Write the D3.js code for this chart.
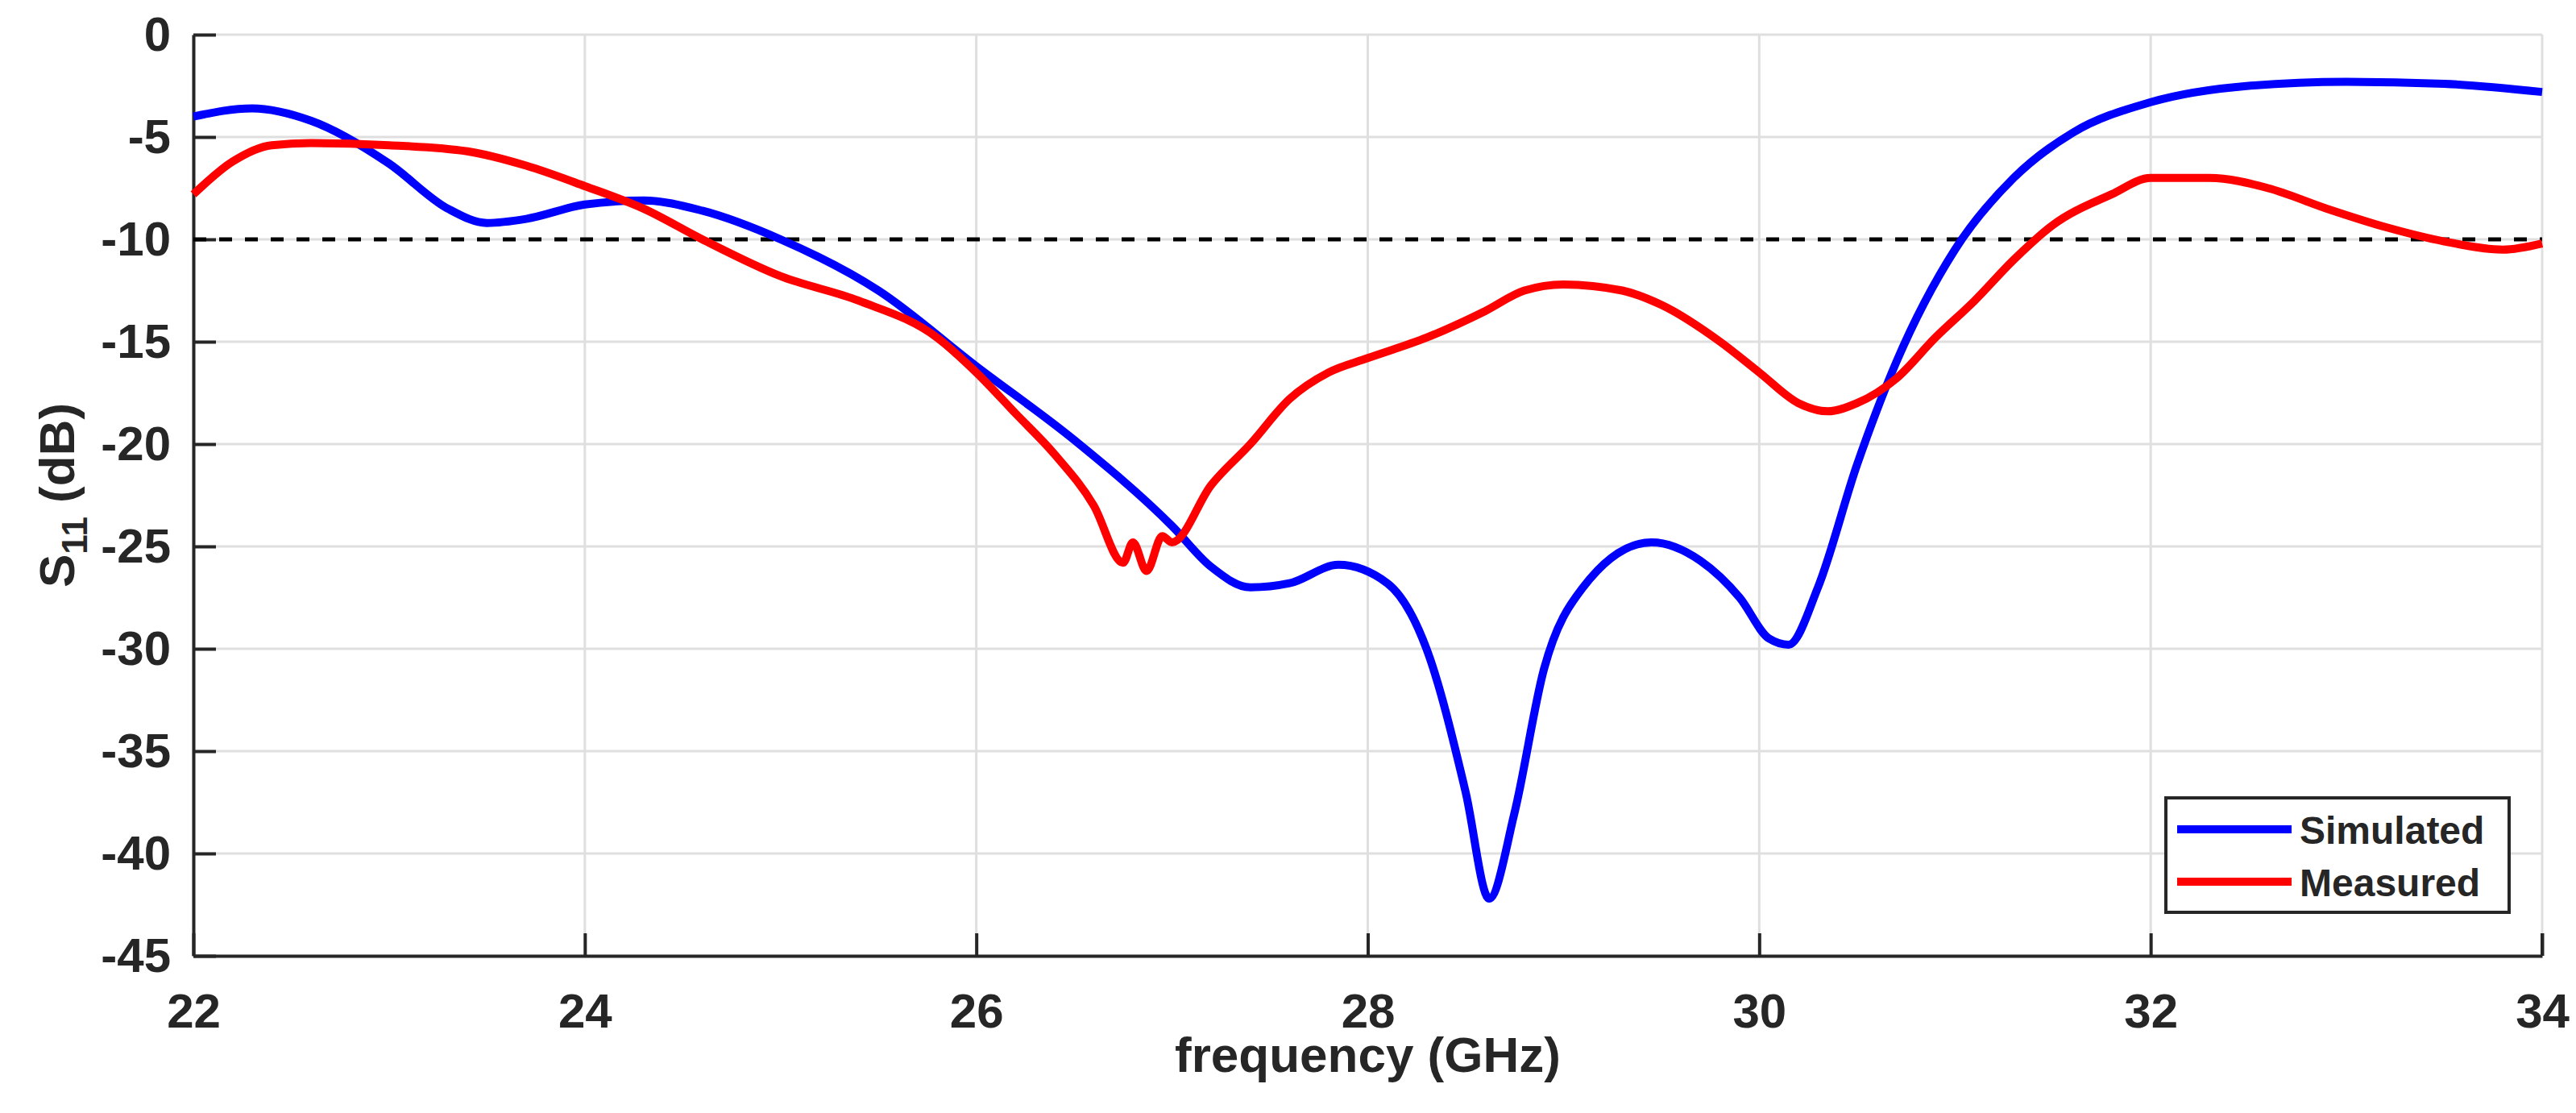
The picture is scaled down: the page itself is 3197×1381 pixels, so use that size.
<!DOCTYPE html><html><head><meta charset="utf-8">
<script src="https://cdn.jsdelivr.net/npm/d3@7"></script>
<style>body{margin:0;background:#fff}text{font-family:"Liberation Sans",Arial,sans-serif;font-weight:bold;fill:#262626}</style>
</head><body><svg id="c" width="3197" height="1381"></svg>
<script>
const simFreq=[22,22.3,22.6,23.0,23.3,23.5,23.7,24.0,24.3,24.6,25,25.5,26,26.5,27,27.2,27.4,27.6,27.85,28.1,28.3,28.5,28.62,28.75,28.9,29.1,29.45,29.7,29.9,30.05,30.15,30.3,30.5,30.7,31,31.3,31.6,32,32.5,33,33.5,34];
const simS11=[-4,-3.6,-4.2,-6.3,-8.5,-9.2,-9.0,-8.3,-8.1,-8.6,-10,-12.5,-16.2,-19.8,-24,-26,-27,-26.8,-25.9,-26.8,-30,-37,-42.2,-38,-31,-27,-24.8,-25.7,-27.5,-29.5,-29.8,-27,-21,-16,-10.5,-7,-4.8,-3.3,-2.5,-2.3,-2.4,-2.8];
const measFreq=[22,22.2,22.4,22.6,23,23.4,23.7,24,24.3,24.6,25,25.4,25.8,26,26.2,26.4,26.6,26.75,26.8,26.87,26.95,27,27.2,27.4,27.6,27.8,28,28.3,28.6,28.8,29,29.3,29.5,29.8,30,30.2,30.35,30.5,30.7,30.9,31.1,31.3,31.5,31.8,32,32.3,32.6,32.9,33.2,33.5,33.8,34];
const measS11=[-7.8,-6.2,-5.4,-5.3,-5.4,-5.7,-6.4,-7.4,-8.5,-10,-11.8,-13,-14.8,-16.5,-18.5,-20.5,-23,-25.8,-24.8,-26.2,-24.5,-24.8,-22,-20,-17.8,-16.5,-15.8,-14.8,-13.5,-12.5,-12.2,-12.5,-13.2,-15,-16.5,-18,-18.4,-18,-16.8,-14.8,-13,-11,-9.3,-7.8,-7,-7,-7.5,-8.5,-9.4,-10.1,-10.5,-10.2];
const xTicks=[22,24,26,28,30,32,34];
const yTicks=[0,-5,-10,-15,-20,-25,-30,-35,-40,-45];
const seriesNames=["Simulated","Measured"];
const seriesColors=["#0000ff","#ff0000"];
const threshold=-10;

const L=240,R=3155,T=43,B=1186;
const svg=d3.select("#c");
const x=d3.scaleLinear().domain([22,34]).range([L,R]);
const y=d3.scaleLinear().domain([-45,0]).range([B,T]);
const g=svg.append("g");
g.selectAll(".gx").data(xTicks).join("line").attr("x1",d=>x(d)).attr("x2",d=>x(d)).attr("y1",T).attr("y2",B).attr("stroke","#dfdfdf").attr("stroke-width",3);
g.selectAll(".gy").data(yTicks).join("line").attr("y1",d=>y(d)).attr("y2",d=>y(d)).attr("x1",L).attr("x2",R).attr("stroke","#dfdfdf").attr("stroke-width",3);
const fmt=d=>String(d);
const ax=svg.append("g").attr("transform",`translate(0,${B})`).call(d3.axisBottom(x).tickValues(xTicks).tickFormat(fmt).tickSize(-28).tickPadding(46).tickSizeOuter(0));
const ay=svg.append("g").attr("transform",`translate(${L},0)`).call(d3.axisLeft(y).tickValues(yTicks).tickFormat(fmt).tickSize(-28).tickPadding(28).tickSizeOuter(0));
[ax,ay].forEach(a=>{a.attr("font-size",null).attr("font-family",null);a.selectAll("path,line").attr("stroke","#262626").attr("stroke-width",4);a.selectAll("text").style("font-size","60px").attr("fill","#262626");});
svg.append("line").attr("x1",R).attr("x2",R).attr("y1",B).attr("y2",B-28).attr("stroke","#262626").attr("stroke-width",4);
svg.append("line").attr("x1",L).attr("x2",R).attr("y1",y(threshold)).attr("y2",y(threshold)).attr("stroke","#000").attr("stroke-width",5).attr("stroke-dasharray","16,16");
const simLine=d3.line().x((d,i)=>x(simFreq[i])).y(d=>y(d)).curve(d3.curveMonotoneX);
const measLine=d3.line().x((d,i)=>x(measFreq[i])).y(d=>y(d)).curve(d3.curveMonotoneX);
svg.append("path").attr("d",simLine(simS11)).attr("fill","none").attr("stroke",seriesColors[0]).attr("stroke-width",10);
svg.append("path").attr("d",measLine(measS11)).attr("fill","none").attr("stroke",seriesColors[1]).attr("stroke-width",10);
svg.append("text").attr("x",(L+R)/2).attr("y",1330).attr("text-anchor","middle").style("font-size","62px").text("frequency (GHz)");
const yl=svg.append("text").attr("transform",`translate(92,${(T+B)/2}) rotate(-90)`).attr("text-anchor","middle").style("font-size","62px");
yl.append("tspan").text("S");yl.append("tspan").attr("dy",16).style("font-size","44px").text("11");yl.append("tspan").attr("dy",-16).text(" (dB)");
const lg=svg.append("g").attr("transform","translate(2688,990)");
lg.append("rect").attr("width",426).attr("height",142).attr("fill","#fff").attr("stroke","#262626").attr("stroke-width",4);
seriesNames.forEach((n,i)=>{lg.append("line").attr("x1",14).attr("x2",156).attr("y1",39+i*65).attr("y2",39+i*65).attr("stroke",seriesColors[i]).attr("stroke-width",10);
lg.append("text").attr("x",166).attr("y",57+i*65).style("font-size","48px").attr("fill","#000").text(n);});
</script></body></html>
